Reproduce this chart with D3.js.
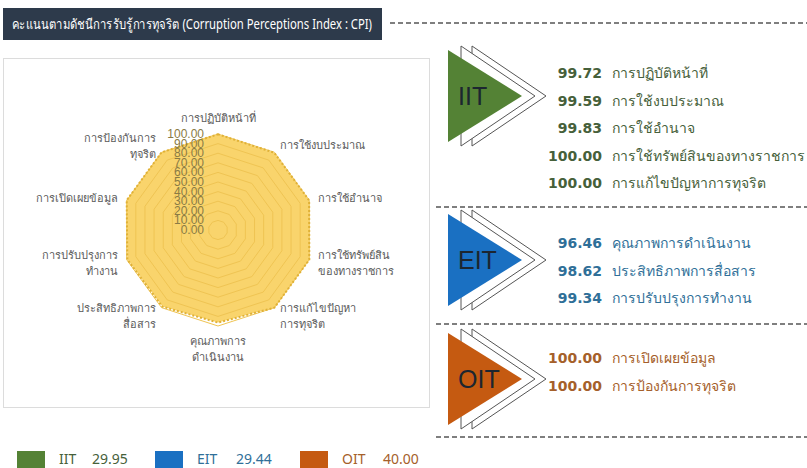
<!DOCTYPE html>
<html>
<head>
<meta charset="utf-8">
<script src="https://cdn.jsdelivr.net/npm/d3@7"></script>
<style>
  body { margin: 0; background: #fff; }
  svg text { font-family: "Noto Sans", "DejaVu Sans", sans-serif; }
</style>
</head>
<body>
<svg id="chart" width="807" height="468"></svg>
<script>
// radar categories, clockwise from the top
var categories = ["การปฏิบัติหน้าที่", "การใช้งบประมาณ", "การใช้อำนาจ",
    "การใช้ทรัพย์สิน\nของทางราชการ", "การแก้ไขปัญหา\nการทุจริต", "คุณภาพการ\nดำเนินงาน",
    "ประสิทธิภาพการ\nสื่อสาร", "การปรับปรุงการ\nทำงาน", "การเปิดเผยข้อมูล", "การป้องกันการ\nทุจริต"];
var scores = [99.72, 99.59, 99.83, 100.00, 100.00, 96.46, 98.62, 99.34, 100.00, 100.00];
var ticks = [0, 10, 20, 30, 40, 50, 60, 70, 80, 90, 100];

// right panel groups
var groups = ["IIT", "EIT", "OIT"];
var groupColors = ["#548235", "#1a70c2", "#c55a11"];
var groupText = ["#46603a", "#2f6f98", "#a5602a"];
var groupItems = [
    ["การปฏิบัติหน้าที่", "การใช้งบประมาณ", "การใช้อำนาจ", "การใช้ทรัพย์สินของทางราชการ", "การแก้ไขปัญหาการทุจริต"],
    ["คุณภาพการดำเนินงาน", "ประสิทธิภาพการสื่อสาร", "การปรับปรุงการทำงาน"],
    ["การเปิดเผยข้อมูล", "การป้องกันการทุจริต"]
];
var groupValues = [
    [99.72, 99.59, 99.83, 100.00, 100.00],
    [96.46, 98.62, 99.34],
    [100.00, 100.00]
];
var legendValues = [29.95, 29.44, 40.00];

var svg = d3.select("#chart");

// title bar
svg.append("rect").attr("x", 3).attr("y", 8).attr("width", 379).attr("height", 32).attr("fill", "#2d3a4b");
svg.append("text").attr("x", 12).attr("y", 29).attr("fill", "#fff").style("font-size", "14px")
    .attr("textLength", 360).attr("lengthAdjust", "spacingAndGlyphs")
    .text("คะแนนตามดัชนีการรับรู้การทุจริต (Corruption Perceptions Index : CPI)");
svg.append("line").attr("x1", 390).attr("x2", 807).attr("y1", 23).attr("y2", 23)
    .attr("stroke", "#555").attr("stroke-width", 1.5).attr("stroke-dasharray", "5,3");

// radar panel
svg.append("rect").attr("x", 3.5).attr("y", 58.5).attr("width", 426).attr("height", 349)
    .attr("fill", "#fff").attr("stroke", "#dcdcdc");

var cx = 218, cy = 230;
var r = d3.scaleLinear().domain([0, 100]).range([0, 96]);
var angle = d3.scaleLinear().domain([0, categories.length]).range([0, 2 * Math.PI]);

var radar = svg.append("g").attr("transform", "translate(" + cx + "," + cy + ")");
var line = d3.lineRadial().angle(function(d, i) { return angle(i); }).curve(d3.curveLinearClosed);

radar.append("path")
    .attr("d", line.radius(function(d) { return r(d); })(scores))
    .attr("fill", "#f9d46c");

radar.selectAll(".ring").data(ticks.slice(1))
    .enter().append("path")
    .attr("class", "ring")
    .attr("d", function(t) { return line.radius(r(t))(categories); })
    .attr("fill", "none").attr("stroke", "#efc453").attr("stroke-width", 1);

radar.append("path")
    .attr("d", line.radius(function(d) { return r(d); })(scores))
    .attr("fill", "none").attr("stroke", "#e0b136").attr("stroke-width", 2)
    .attr("stroke-dasharray", "2,2");

radar.selectAll(".tick").data(ticks)
    .enter().append("text")
    .attr("x", -14).attr("y", function(t) { return -r(t) + 4; })
    .attr("text-anchor", "end").attr("fill", "#8a7b45")
    .style("font-family", "'Liberation Sans Narrow', 'Liberation Sans', sans-serif").style("font-size", "12px")
    .text(function(t) { return t.toFixed(2); });

var lab = radar.selectAll(".cat").data(categories)
    .enter().append("text")
    .attr("fill", "#5a5a5a").style("font-size", "11px")
    .attr("text-anchor", function(d, i) {
        var s = Math.sin(angle(i));
        return Math.abs(s) < 0.1 ? "middle" : (s > 0 ? "start" : "end");
    })
    .attr("transform", function(d, i) {
        var a = angle(i), rr = r(100) + 9;
        var x = Math.sin(a) * rr, y = -Math.cos(a) * rr;
        var n = d.split("\n").length;
        var dy = Math.cos(a) > 0.9 ? -3 : (Math.cos(a) < -0.9 ? 10 : 4 - (n - 1) * 7);
        return "translate(" + x + "," + (y + dy) + ")";
    });
lab.each(function(d) {
    var t = d3.select(this);
    d.split("\n").forEach(function(s, k) {
        t.append("tspan").attr("x", 0).attr("dy", k === 0 ? 0 : 16).text(s);
    });
});

// right side panels
var panelTop = [50, 214, 333];
var rowStart = [73, 243, 358];
var rowStep = [27.5, 27.5, 28];
var dashY = [207, 324, 437];

dashY.forEach(function(y) {
    svg.append("line").attr("x1", 436).attr("x2", 807).attr("y1", y).attr("y2", y)
        .attr("stroke", "#555").attr("stroke-width", 1.5).attr("stroke-dasharray", "5,3");
});

groups.forEach(function(g, gi) {
    var top = panelTop[gi], h = 92, x0 = 448, w = 74;
    var gg = svg.append("g");
    [24, 13].forEach(function(off) {
        var p = d3.path();
        p.moveTo(x0 + off, top - 4);
        p.lineTo(x0 + w + off, top + h / 2);
        p.lineTo(x0 + off, top + h + 4);
        p.closePath();
        gg.append("path").attr("d", p.toString()).attr("fill", "#fff")
            .attr("stroke", "#555").attr("stroke-width", 1);
    });
    var p = d3.path();
    p.moveTo(x0, top); p.lineTo(x0 + w, top + h / 2); p.lineTo(x0, top + h); p.closePath();
    gg.append("path").attr("d", p.toString()).attr("fill", groupColors[gi]);
    gg.append("text").attr("x", x0 + 10).attr("y", top + h / 2 + 9)
        .attr("fill", "#1c2630").style("font-family", "'Liberation Sans', sans-serif")
        .style("font-size", "25px").text(g);

    groupItems[gi].forEach(function(item, k) {
        var y = rowStart[gi] + k * rowStep[gi] + 5;
        svg.append("text").attr("x", 602).attr("y", y).attr("text-anchor", "end")
            .attr("fill", groupText[gi]).style("font-family", "'DejaVu Sans', sans-serif")
            .style("font-weight", "bold").style("font-size", "14px")
            .text(groupValues[gi][k].toFixed(2));
        svg.append("text").attr("x", 612).attr("y", y)
            .attr("fill", groupText[gi]).style("font-size", "14px").text(item);
    });
});

// legend
var lx = [17, 155, 300];
var vx = [92, 236, 383];
groups.forEach(function(g, gi) {
    svg.append("rect").attr("x", lx[gi]).attr("y", 451).attr("width", 28).attr("height", 17)
        .attr("fill", groupColors[gi]);
    svg.append("text").attr("x", lx[gi] + 42).attr("y", 464).attr("fill", groupText[gi])
        .style("font-size", "14px").text(g);
    svg.append("text").attr("x", vx[gi]).attr("y", 464).attr("fill", groupText[gi])
        .style("font-size", "14px").text(legendValues[gi].toFixed(2));
});
</script>
</body>
</html>
